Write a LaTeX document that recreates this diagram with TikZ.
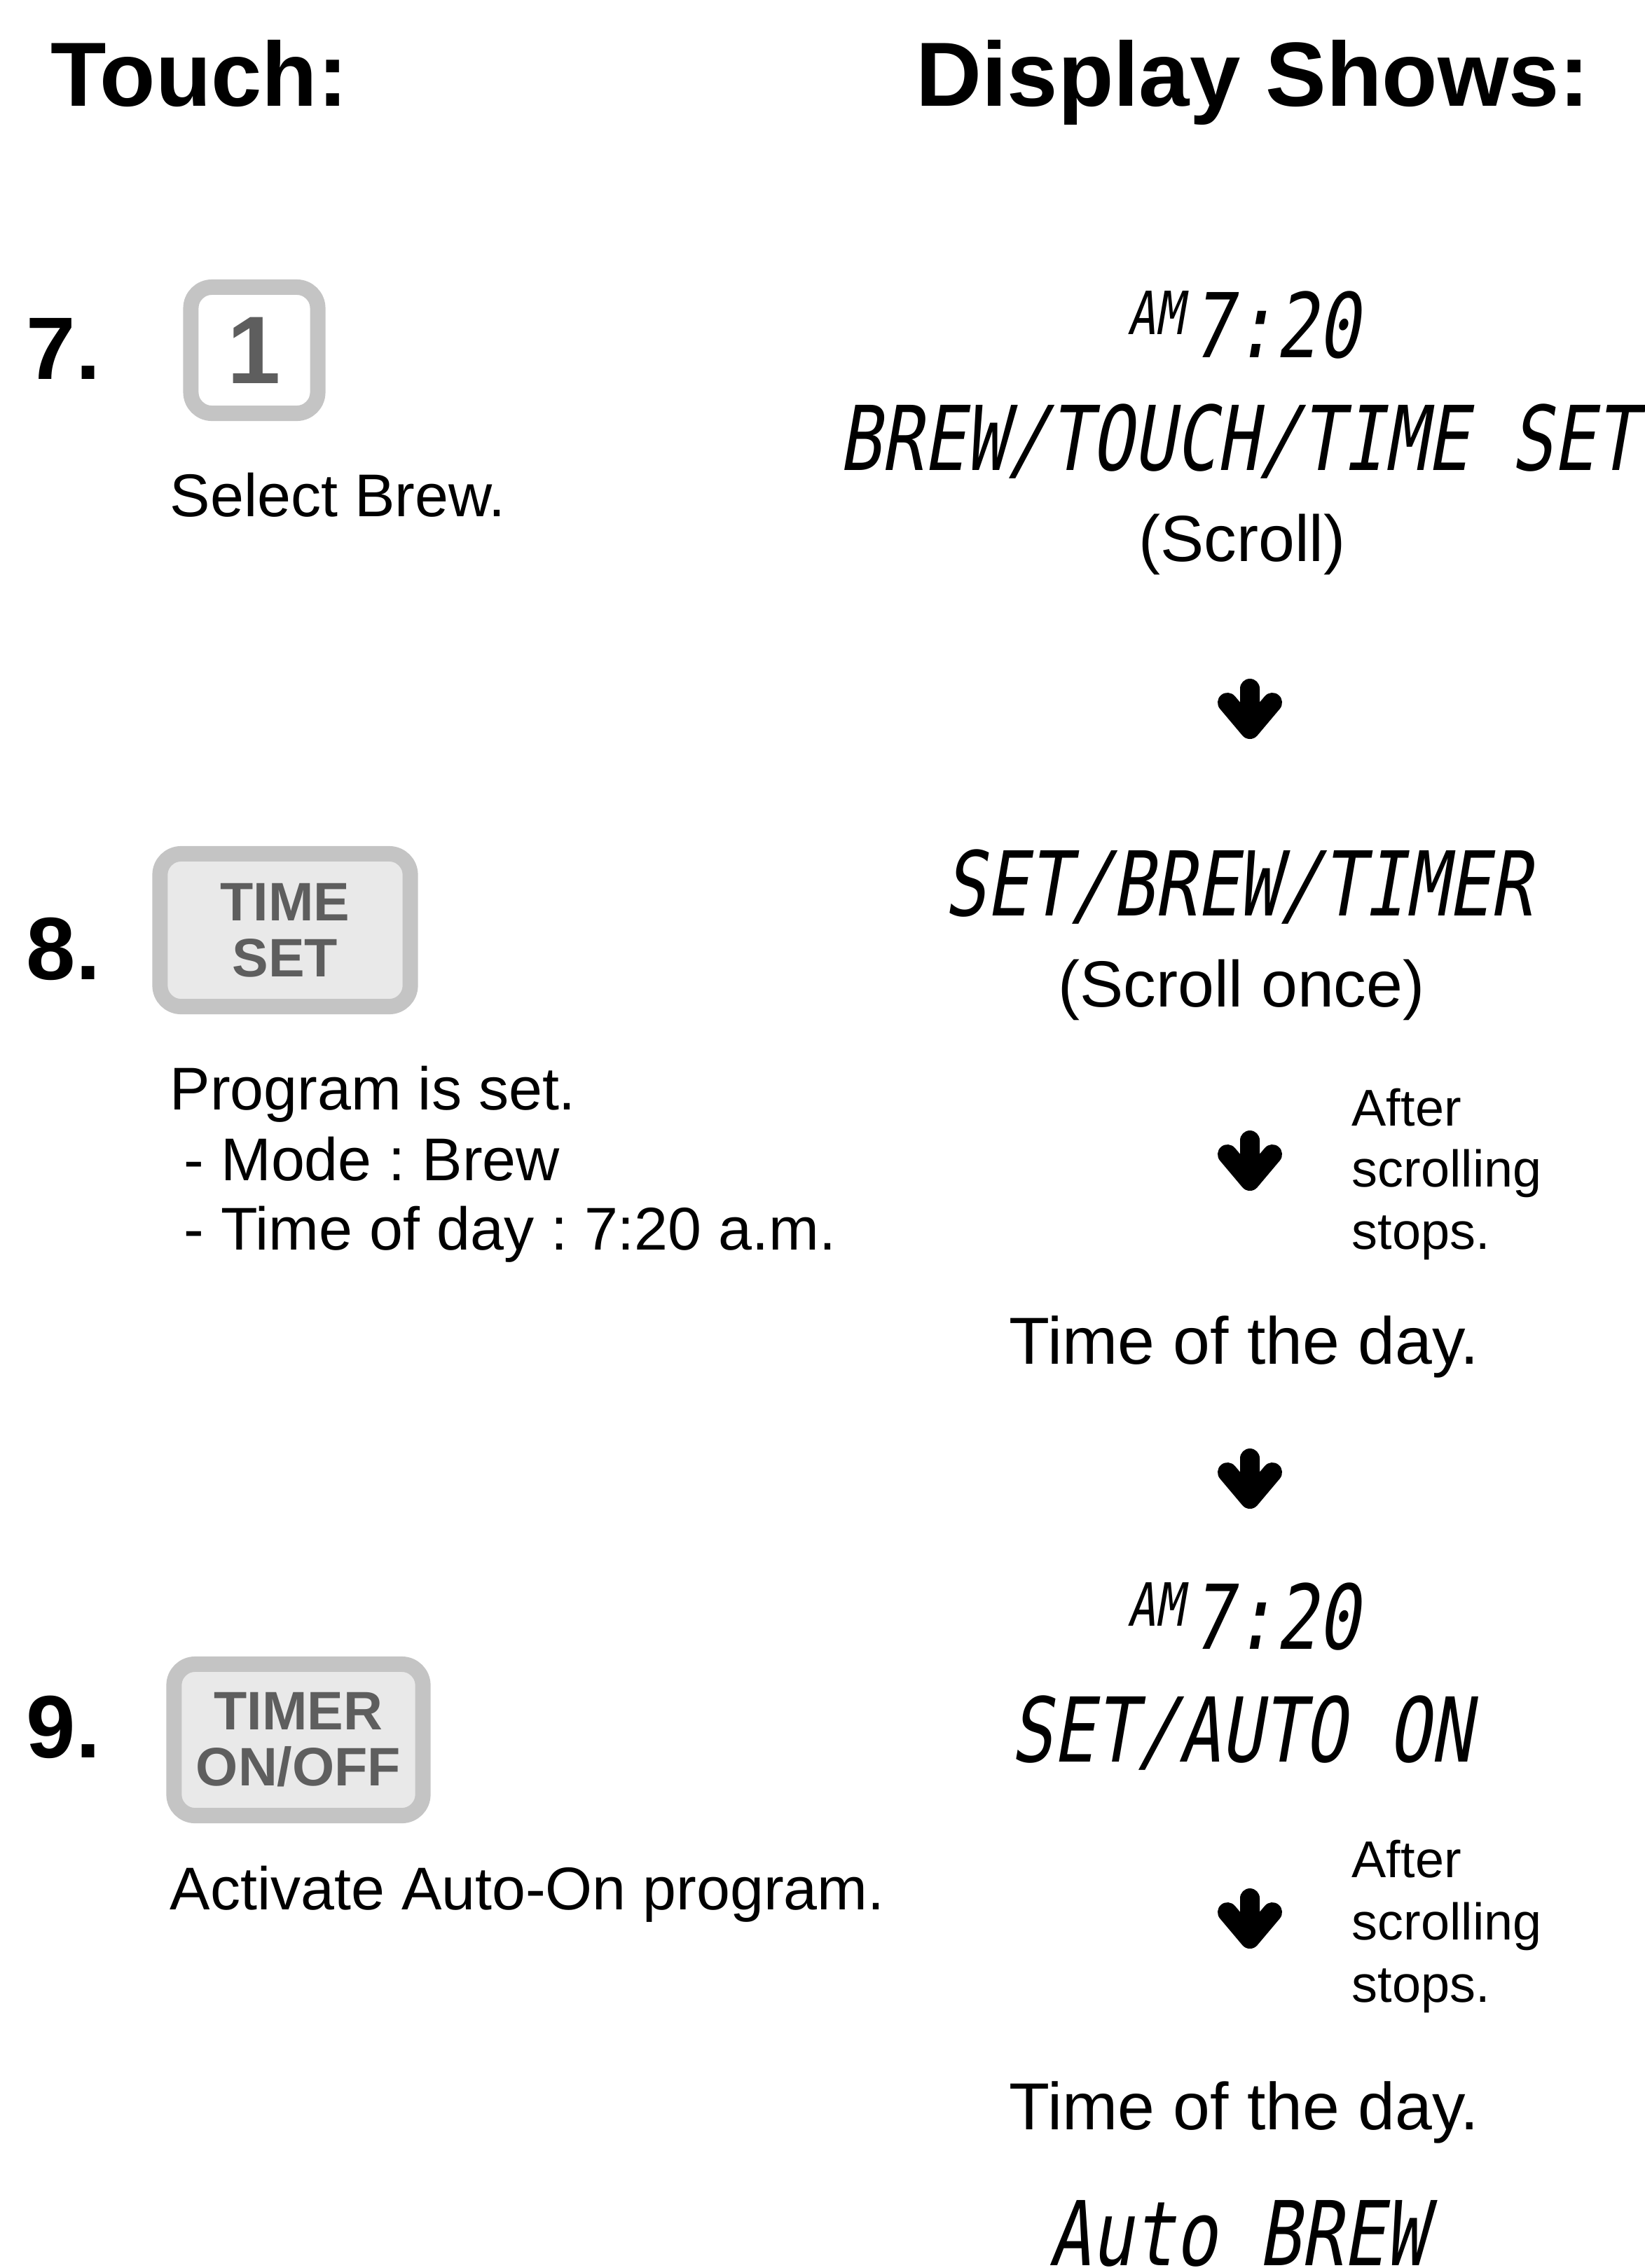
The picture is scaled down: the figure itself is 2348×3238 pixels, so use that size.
\documentclass[tikz,border=0pt]{standalone}
\usepackage{fontspec}
\setmainfont{Liberation Sans}
\newfontfamily\lcdfont[FakeStretch=0.78,FakeSlant=0.17]{DejaVu Sans Mono}
\frenchspacing
\usetikzlibrary{positioning}
\definecolor{keyedge}{HTML}{C4C4C4}
\definecolor{keyfill}{HTML}{E9E9E9}
\definecolor{keytext}{HTML}{5E5E5E}
\tikzset{
  headtext/.style={
    font=\fontsize{37}{44}\selectfont\bfseries,
    inner sep=0pt, anchor=base west
  },
  stepnum/.style={
    font=\fontsize{36}{43}\selectfont\bfseries,
    inner sep=0pt, anchor=base west
  },
  keybox/.style={
    rectangle, rounded corners=0.3cm, draw=keyedge, line width=0.22cm,
    fill=#1, text=keytext, align=center, inner sep=0pt,
    font=\fontsize{22}{22.8}\selectfont\bfseries
  },
  keybox/.default=keyfill,
  bodytext/.style={
    font=\fontsize{24.5}{29}\selectfont, inner sep=0pt, anchor=base west
  },
  scrolltext/.style={
    font=\fontsize{26.5}{31}\selectfont, inner sep=0pt, anchor=base
  },
  daytext/.style={
    font=\fontsize{27}{32}\selectfont, inner sep=0pt, anchor=base
  },
  notetext/.style={
    font=\fontsize{21}{25}\selectfont, inner sep=0pt, anchor=base west
  },
  lcdtext/.style={
    font=\fontsize{36.3}{40}\selectfont\lcdfont, inner sep=0pt, anchor=base
  },
  lcdsmall/.style={
    font=\fontsize{24.2}{28}\selectfont\lcdfont, inner sep=0pt, anchor=north east
  },
  downarrow/.pic={
    \draw[line width=0.28cm, line cap=round, line join=round]
      (0,-30) -- (0,28) (-32,-10) -- (0,28) -- (32,-10);
  },
}

\begin{document}
\begin{tikzpicture}[x=0.01cm, y=-0.01cm]
  \useasboundingbox (0,0) rectangle (2348,3238);
  \clip (0,0) rectangle (2348,3238);
  % headings
  \node[headtext] (touch) at (72,151) {Touch:};
  \node[headtext] (shows) at (1307,151) {Display Shows:};

  % step 7
  \node[stepnum] (n7) at (37,541) {7.};
  \node[keybox=white, minimum width=1.81cm, minimum height=1.80cm,
        font=\fontsize{39}{40}\selectfont\bfseries] (key1) at (363,500) {1};
  \node[bodytext] (brew) at (242,737) {Select Brew.};
  \node[lcdtext, anchor=base west] (clock1) at (1700,510) {7:20};
  \node[lcdsmall] (am1) at ([xshift=-0.1cm]clock1.north west) {AM};
  \node[lcdtext] (disp1) at (1767,671) {BREW/TOUCH/TIME SET};
  \node[scrolltext] (scroll1) at (1773,801) {(Scroll)};
  \pic (arr1) at (1784,1013) {downarrow};

  % step 8
  \node[stepnum] (n8) at (37,1398) {8.};
  \node[keybox, minimum width=3.57cm, minimum height=2.18cm] (key2) at (407,1328) {TIME\\SET};
  \node[lcdtext] (disp2) at (1767,1307) {SET/BREW/TIMER};
  \node[scrolltext] (scroll2) at (1772,1437) {(Scroll once)};
  \node[bodytext] (prog) at (242,1584) {Program is set.};
  \node[bodytext] (mode) at ([xshift=0.2cm, yshift=-1.01cm]prog.base west) {- Mode : Brew};
  \node[bodytext] (tod) at ([yshift=-0.99cm]mode.base west) {- Time of day : 7:20 a.m.};
  \pic (arr2) at (1784,1658) {downarrow};
  \node[notetext] (after1) at (1929,1607) {After};
  \node[notetext] (scrl1) at ([yshift=-0.87cm]after1.base west) {scrolling};
  \node[notetext] (stops1) at ([yshift=-0.89cm]scrl1.base west) {stops.};
  \node[daytext] (day1) at (1776,1947) {Time of the day.};
  \pic (arr3) at (1784,2112) {downarrow};
  \node[lcdtext, anchor=base west] (clock2) at (1700,2354) {7:20};
  \node[lcdsmall] (am2) at ([xshift=-0.1cm]clock2.north west) {AM};

  % step 9
  \node[stepnum] (n9) at (37,2509) {9.};
  \node[keybox, minimum width=3.55cm, minimum height=2.16cm] (key3) at (426,2484) {TIMER\\ON/OFF};
  \node[lcdtext] (disp3) at (1772,2515) {SET/AUTO ON};
  \node[bodytext] (activ) at (242,2726) {Activate Auto-On program.};
  \pic (arr4) at (1784,2740) {downarrow};
  \node[notetext] (after2) at (1929,2680) {After};
  \node[notetext] (scrl2) at ([yshift=-0.89cm]after2.base west) {scrolling};
  \node[notetext] (stops2) at ([yshift=-0.89cm]scrl2.base west) {stops.};
  \node[daytext] (day2) at (1776,3040) {Time of the day.};
  \node[lcdtext] (disp4) at (1767,3234) {Auto BREW};
\end{tikzpicture}
\end{document}
